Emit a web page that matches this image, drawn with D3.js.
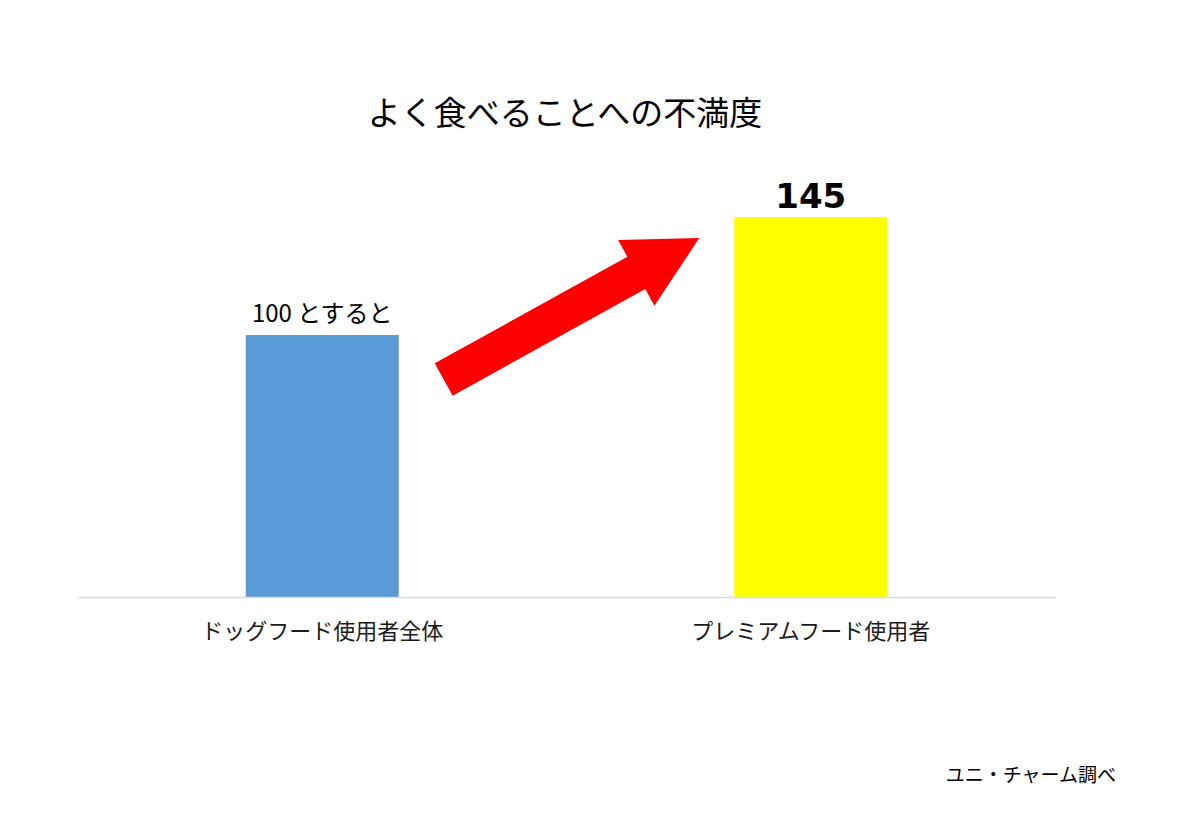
<!DOCTYPE html>
<html><head><meta charset="utf-8">
<script src="https://cdn.jsdelivr.net/npm/d3@7"></script>
<style>
html,body{margin:0;padding:0;background:#fff;}
svg{display:block;font-family:"Noto Sans CJK JP","Noto Sans",sans-serif;}
</style></head>
<body>
<script>
const categories = ["ドッグフード使用者全体", "プレミアムフード使用者"];
const values = [100, 145];
const valueLabels = ["100 とすると", "145"];
const barColors = ["#5b9bd5", "#ffff00"];
const title = "よく食べることへの不満度";
const source = "ユニ・チャーム調べ";
// arrow annotation in data terms: from value 83 to 137
const arrowFromValue = 83, arrowToValue = 137;

const W = 1198, H = 835;
const svg = d3.select("body").append("svg").attr("width", W).attr("height", H);

const x = d3.scaleBand().domain(categories).range([78, 1055]).paddingInner(0.687).paddingOuter(0.3435);
const y = d3.scaleLinear().domain([0, 160]).range([597, 177.8]);

// title
svg.append("text").attr("x", 565).attr("y", 125).attr("text-anchor", "middle")
  .attr("font-size", 33).attr("fill", "#000").text(title);

// bars
svg.selectAll("rect.bar").data(values).join("rect").attr("class", "bar")
  .attr("x", (d, i) => x(categories[i])).attr("width", x.bandwidth())
  .attr("y", d => y(d)).attr("height", d => y(0) - y(d))
  .attr("fill", (d, i) => barColors[i]);

// axis
const axis = svg.append("g").attr("transform", `translate(0,${y(0)})`)
  .call(d3.axisBottom(x).tickSize(0).tickPadding(26));
axis.select(".domain").attr("stroke", "#d9d9d9").attr("stroke-width", 1.5);
axis.selectAll("text").attr("font-size", 22).attr("fill", "#1a1a1a")
  .attr("font-family", '"Noto Sans CJK JP",sans-serif');

// value labels
svg.selectAll("text.vl").data(values).join("text").attr("class", "vl")
  .attr("x", (d, i) => x(categories[i]) + x.bandwidth() / 2)
  .attr("y", (d, i) => y(d) - (i === 1 ? 9 : 13))
  .attr("text-anchor", "middle")
  .attr("font-size", (d, i) => i === 1 ? 34 : 24)
  .attr("font-weight", (d, i) => i === 1 ? 700 : 400)
  .attr("font-family", (d, i) => i === 1 ? '"DejaVu Sans",sans-serif' : '"Noto Sans CJK JP",sans-serif')
  .attr("fill", "#000")
  .text((d, i) => valueLabels[i]);

// arrow
const tail = [x(categories[0]) + x.bandwidth() + 45, y(arrowFromValue)];
const tip = [x(categories[1]) - 35, y(arrowToValue)];
const dx = tip[0] - tail[0], dy = tip[1] - tail[1];
const len = Math.hypot(dx, dy);
const ux = dx / len, uy = dy / len, px = -uy, py = ux;
const shaftW = 37, headW = 75, headL = 72;
const bx = tip[0] - ux * headL, by = tip[1] - uy * headL;
const pts = [
  [tail[0] + px * shaftW / 2, tail[1] + py * shaftW / 2],
  [bx + px * shaftW / 2, by + py * shaftW / 2],
  [bx + px * headW / 2, by + py * headW / 2],
  tip,
  [bx - px * headW / 2, by - py * headW / 2],
  [bx - px * shaftW / 2, by - py * shaftW / 2],
  [tail[0] - px * shaftW / 2, tail[1] - py * shaftW / 2]
];
svg.append("path").attr("d", d3.line()(pts) + "Z").attr("fill", "#ff0000");

// source
svg.append("text").attr("x", 1116).attr("y", 782).attr("text-anchor", "end")
  .attr("font-size", 19).attr("fill", "#000").text(source);
</script>
</body></html>
